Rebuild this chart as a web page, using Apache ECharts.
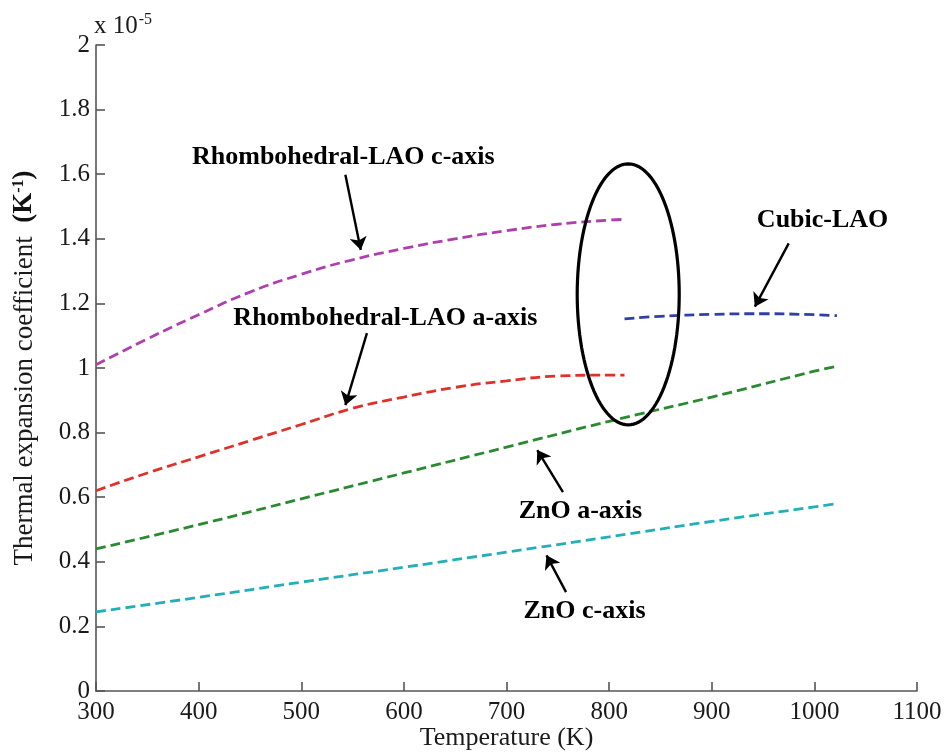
<!DOCTYPE html>
<html>
<head>
<meta charset="utf-8">
<script src="https://cdn.jsdelivr.net/npm/echarts@6/dist/echarts.min.js"></script>
<style>
  html, body { margin: 0; padding: 0; background: #fff; }
  #chart { width: 946px; height: 753px; }
</style>
</head>
<body>
<div id="chart"></div>
<script>
// Thermal expansion coefficients (units of 1e-5 K^-1) versus temperature (K)
const rhombC = [[300,1.01],[350,1.09],[400,1.165],[450,1.235],[500,1.29],[550,1.335],[600,1.37],[650,1.40],[700,1.425],[750,1.445],[800,1.458],[815,1.46]];
const rhombA = [[300,0.62],[350,0.675],[400,0.725],[450,0.775],[500,0.825],[550,0.875],[600,0.91],[650,0.94],[700,0.96],[750,0.975],[800,0.978],[815,0.978]];
const cubic  = [[815,1.152],[850,1.16],[900,1.166],[950,1.168],[1000,1.165],[1022,1.162]];
const znoA   = [[300,0.44],[400,0.515],[500,0.595],[600,0.675],[700,0.755],[800,0.835],[900,0.91],[1000,0.99],[1022,1.005]];
const znoC   = [[300,0.245],[400,0.29],[500,0.337],[600,0.383],[700,0.43],[800,0.477],[900,0.525],[1000,0.57],[1022,0.58]];

const xTicks = [300, 400, 500, 600, 700, 800, 900, 1000, 1100];
const yTicks = [0, 0.2, 0.4, 0.6, 0.8, 1, 1.2, 1.4, 1.6, 1.8, 2];

// Curve annotations: label text and anchor (T, value)
const labels = [
  { name: 'Rhombohedral-LAO c-axis', value: [541, 1.651] },
  { name: 'Rhombohedral-LAO a-axis', value: [582, 1.155] },
  { name: 'Cubic-LAO', value: [1008, 1.458] },
  { name: 'ZnO a-axis', value: [772, 0.557] },
  { name: 'ZnO c-axis', value: [776, 0.247] }
];
// Pointer arrows: [tail, head]
const arrows = [
  [[543, 1.598], [558, 1.365]],
  [[564, 1.108], [543, 0.885]],
  [[975, 1.386], [942, 1.19]],
  [[755, 0.616], [730, 0.746]],
  [[758, 0.306], [739, 0.420]]
];
// Ellipse around the phase transition: center (T, value) and radii
const transitionEllipse = [[818.6, 1.228, 49.7, 0.404]];

const serif = '"Liberation Serif", "Times New Roman", serif';

function dashed(name, data, color) {
  return {
    name, type: 'line', data, smooth: true, symbol: 'none',
    lineStyle: { color, width: 2.8, type: [10, 5] }, z: 3
  };
}

const chart = echarts.init(document.getElementById('chart'));
chart.setOption({
  backgroundColor: '#fff',
  animation: false,
  grid: { left: 96, right: 29, top: 45, bottom: 62, containLabel: false, outerBoundsMode: 'none' },
  xAxis: {
    type: 'value', min: 300, max: 1100, interval: 100,
    name: 'Temperature (K)', nameLocation: 'middle', nameGap: 34, nameMoveOverlap: false,
    nameTextStyle: { fontFamily: serif, fontSize: 26, color: '#1a1a1a' },
    axisLine: { lineStyle: { color: '#555', width: 1.6 } },
    axisTick: { inside: true, length: 9, lineStyle: { color: '#555', width: 1.6 } },
    axisLabel: { fontFamily: serif, fontSize: 25, color: '#1a1a1a', margin: 9,
      customValues: xTicks, formatter: v => String(v) },
    splitLine: { show: false }
  },
  yAxis: {
    type: 'value', min: 0, max: 2, interval: 0.2,
    axisLine: { show: true, lineStyle: { color: '#555', width: 1.6 } },
    axisTick: { show: true, inside: true, length: 9, lineStyle: { color: '#555', width: 1.6 } },
    axisLabel: { fontFamily: serif, fontSize: 25, color: '#1a1a1a', margin: 6,
      customValues: yTicks, formatter: v => String(+v.toFixed(1)) },
    splitLine: { show: false },
    name: '{n|Thermal expansion coefficient  }{b|(K}{s|-1}{b|)}',
    nameLocation: 'middle', nameGap: 58, nameRotate: 90, nameMoveOverlap: false,
    nameTextStyle: {
      rich: {
        n: { fontFamily: serif, fontSize: 27, color: '#1a1a1a' },
        b: { fontFamily: serif, fontSize: 27, fontWeight: 'bold', color: '#111' },
        s: { fontFamily: serif, fontSize: 16, fontWeight: 'bold', color: '#111', verticalAlign: 'top', padding: [0, 0, 11, 0] }
      }
    }
  },
  graphic: [{
    type: 'text', left: 94, top: 12,
    style: {
      text: '{a|x 10}{s|-5}',
      rich: {
        a: { fontFamily: serif, fontSize: 25, fill: '#1a1a1a' },
        s: { fontFamily: serif, fontSize: 16, fill: '#1a1a1a', verticalAlign: 'top', padding: [0, 0, 12, 1] }
      }
    }
  }],
  series: [
    dashed('Rhombohedral-LAO c-axis', rhombC, '#AE3FAE'),
    dashed('Rhombohedral-LAO a-axis', rhombA, '#E0302A'),
    dashed('Cubic-LAO', cubic, '#3040A8'),
    dashed('ZnO a-axis', znoA, '#2A8A32'),
    dashed('ZnO c-axis', znoC, '#22B0B8'),
    {
      type: 'custom', data: transitionEllipse, z: 4,
      renderItem: (params, api) => {
        const cx = api.value(0), cy = api.value(1), rx = api.value(2), ry = api.value(3);
        const pts = [];
        for (let i = 0; i <= 120; i++) {
          const t = i / 120 * Math.PI * 2;
          pts.push(api.coord([cx + rx * Math.cos(t), cy + ry * Math.sin(t)]));
        }
        return { type: 'polygon', shape: { points: pts },
          style: { fill: 'none', stroke: '#000', lineWidth: 3.2 } };
      }
    },
    {
      type: 'lines', coordinateSystem: 'cartesian2d', z: 5,
      data: arrows.map(a => ({ coords: a })),
      symbol: ['none', 'arrow'], symbolSize: [0, 13],
      lineStyle: { color: '#000', width: 2.4, opacity: 1 }
    },
    {
      type: 'scatter', data: labels, symbolSize: 0, z: 6,
      itemStyle: { opacity: 1 },
      label: {
        show: true, position: 'inside', formatter: p => p.name, opacity: 1,
        fontFamily: serif, fontSize: 26, fontWeight: 'bold', color: '#000',
        textBorderWidth: 0
      }
    }
  ]
});
</script>
</body>
</html>
